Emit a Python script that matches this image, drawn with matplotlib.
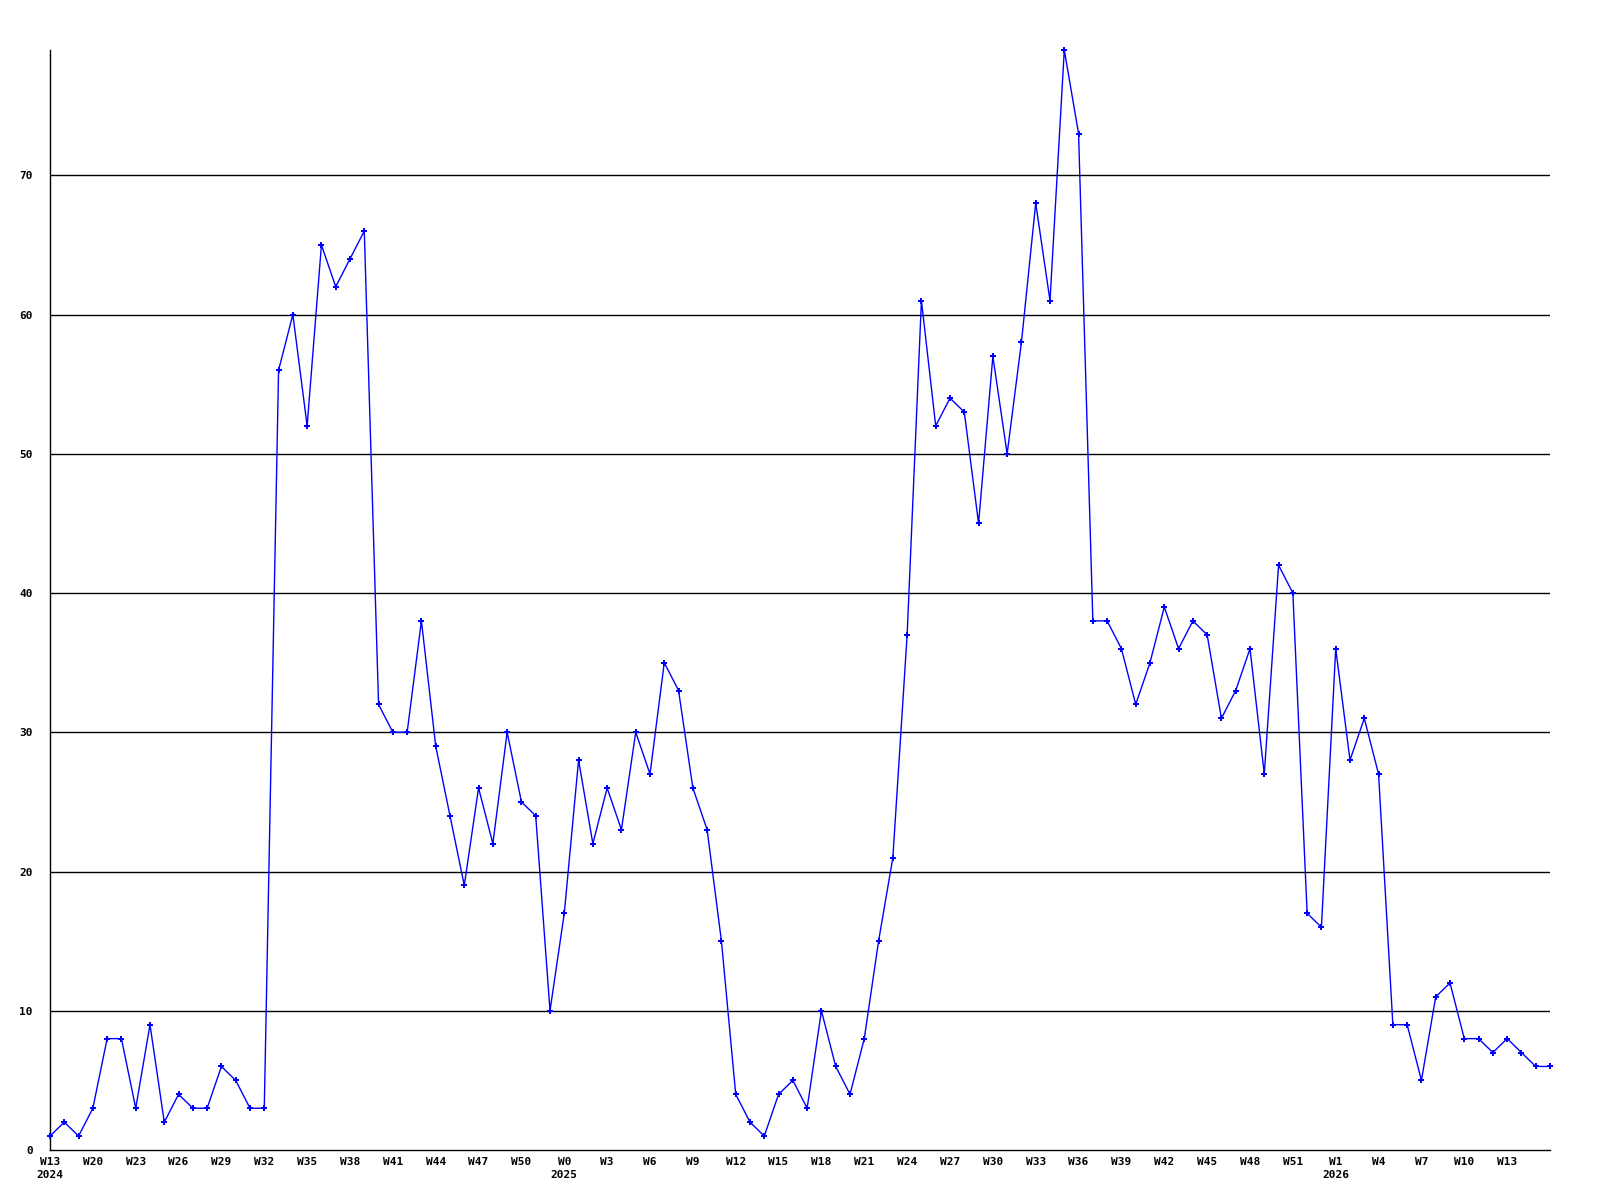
import matplotlib
matplotlib.use("Agg")
import matplotlib.pyplot as plt

# weekly counts, one value per week
values = [1, 2, 1, 3, 8, 8, 3, 9, 2, 4, 3, 3, 6, 5, 3, 3,
          56, 60, 52, 65, 62, 64, 66, 32, 30, 30, 38, 29, 24, 19, 26, 22,
          30, 25, 24, 10, 17, 28, 22, 26, 23, 30, 27, 35, 33, 26, 23, 15,
          4, 2, 1, 4, 5, 3, 10, 6, 4, 8, 15, 21, 37, 61, 52, 54,
          53, 45, 57, 50, 58, 68, 61, 79, 73, 38, 38, 36, 32, 35, 39, 36,
          38, 37, 31, 33, 36, 27, 42, 40, 17, 16, 36, 28, 31, 27, 9, 9,
          5, 11, 12, 8, 8, 7, 8, 7, 6, 6]

# labels shown every third week
week_labels = ["W13", "W20", "W23", "W26", "W29", "W32", "W35", "W38", "W41",
               "W44", "W47", "W50", "W0", "W3", "W6", "W9", "W12", "W15",
               "W18", "W21", "W24", "W27", "W30", "W33", "W36", "W39", "W42",
               "W45", "W48", "W51", "W1", "W4", "W7", "W10", "W13"]
year_marks = {"W13": "2024", "W0": "2025", "W1": "2026"}

y_ticks = [0, 10, 20, 30, 40, 50, 60, 70]

fig = plt.figure(figsize=(16, 12), dpi=100)
ax = fig.add_axes([50 / 1600, 50 / 1200, 1500 / 1600, 1100 / 1200])

x = list(range(len(values)))
ax.plot(x, values, color="#0000ff", linewidth=1, marker="P", markersize=4,
        markeredgewidth=0, clip_on=False, zorder=3)

ax.set_xlim(0, len(values) - 1)
ax.set_ylim(0, max(values))

# horizontal grid lines
for t in y_ticks[1:]:
    ax.axhline(t, color="black", linewidth=1, zorder=1)

labels = []
seen_years = set()
for lab in week_labels:
    yr = year_marks.get(lab)
    if yr is not None and yr not in seen_years:
        seen_years.add(yr)
        labels.append(lab + "\n" + yr)
    else:
        labels.append(lab)

ax.set_xticks(list(range(0, len(values), 3))[:len(week_labels)])
ax.set_xticklabels(labels, fontfamily="DejaVu Sans Mono", fontweight="bold",
                   fontsize=8, linespacing=1.4, va="top")
ax.set_yticks(y_ticks)
ax.set_yticklabels([str(t) for t in y_ticks], fontfamily="DejaVu Sans Mono",
                   fontweight="bold", fontsize=8)
ax.tick_params(axis="x", length=0, pad=5)
ax.tick_params(axis="y", length=0, pad=12.5)

for side in ["top", "right"]:
    ax.spines[side].set_visible(False)
for side in ["left", "bottom"]:
    ax.spines[side].set_color("black")
    ax.spines[side].set_linewidth(1)

fig.savefig("out.png", dpi=100, facecolor="white")
